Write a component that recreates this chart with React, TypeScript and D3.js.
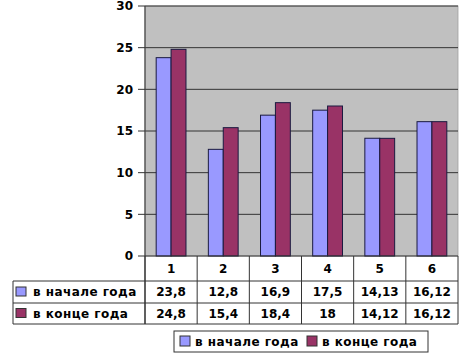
import React from "react";
import * as d3 from "d3";

const categories = ["1", "2", "3", "4", "5", "6"];
const seriesNames = ["в начале года", "в конце года"];
const startValues = [23.8, 12.8, 16.9, 17.5, 14.13, 16.12];
const endValues = [24.8, 15.4, 18.4, 18, 14.12, 16.12];
const startLabels = ["23,8", "12,8", "16,9", "17,5", "14,13", "16,12"];
const endLabels = ["24,8", "15,4", "18,4", "18", "14,12", "16,12"];
const yTicks = [0, 5, 10, 15, 20, 25, 30];
const colors = ["#9999FF", "#993366"];

export default function App() {
  const W = 470, H = 357;
  const left = 145, right = 458, top = 6, bottom = 256;
  const tableLeft = 13;
  const rowLines = [256, 281, 303, 324];
  const font = "'DejaVu Sans', Verdana, sans-serif";
  const ls = 0.45;

  const y = d3.scaleLinear().domain([0, 30]).range([bottom, top]);
  const x0 = d3.scaleBand().domain(categories).range([left, right]).paddingInner(0).paddingOuter(0);
  const x1 = d3.scaleBand().domain(seriesNames).range([0, x0.bandwidth()]).paddingInner(0).paddingOuter(0.75);
  const series = [startValues, endValues];
  const labels = [startLabels, endLabels];

  const boundaries = categories.map((c) => x0(c)!).concat([right]);

  return (
    <svg width={W} height={H} style={{ position: "absolute", left: 0, top: 0, background: "#fff" }}>
      <rect x={left} y={top} width={right - left} height={bottom - top} fill="#C0C0C0" stroke="#a0a0a0" strokeWidth={0.8} />
      {yTicks.filter((t) => t > 0).map((t) => (
        <line key={t} x1={left} x2={right} y1={y(t)} y2={y(t)} stroke="#333" strokeWidth={1} />
      ))}
      {series.map((vals, si) =>
        categories.map((c, i) => (
          <rect
            key={si + "-" + c}
            x={x0(c)! + x1(seriesNames[si])!}
            y={y(vals[i])}
            width={x1.bandwidth()}
            height={bottom - y(vals[i])}
            fill={colors[si]}
            stroke="#1a1a40"
            strokeWidth={1}
          />
        ))
      )}
      {/* y axis */}
      <line x1={left} x2={left} y1={top} y2={rowLines[3]} stroke="#444" strokeWidth={1.2} />
      {yTicks.map((t) => (
        <g key={t}>
          <line x1={left - 7} x2={left} y1={y(t)} y2={y(t)} stroke="#333" strokeWidth={1} />
          <text x={left - 12} y={y(t)} dy="0.36em" textAnchor="end" fontFamily={font} fontWeight="bold" fontSize={12} fill="#000">
            {t}
          </text>
        </g>
      ))}
      {/* table */}
      <line x1={left} x2={right} y1={rowLines[0]} y2={rowLines[0]} stroke="#333" strokeWidth={1} />
      {rowLines.slice(1).map((ry) => (
        <line key={ry} x1={tableLeft} x2={right} y1={ry} y2={ry} stroke="#333" strokeWidth={1} />
      ))}
      <line x1={tableLeft} x2={tableLeft} y1={rowLines[1]} y2={rowLines[3]} stroke="#333" strokeWidth={1} />
      {boundaries.map((bx, i) => (
        <line key={i} x1={bx} x2={bx} y1={rowLines[0]} y2={rowLines[3]} stroke="#333" strokeWidth={1} />
      ))}
      {categories.map((c) => (
        <text key={c} x={x0(c)! + x0.bandwidth() / 2} y={(rowLines[0] + rowLines[1]) / 2} dy="0.36em" textAnchor="middle" fontFamily={font} fontWeight="bold" fontSize={12}>
          {c}
        </text>
      ))}
      {labels.map((labs, si) => (
        <g key={si}>
          <rect x={16} y={(rowLines[si + 1] + rowLines[si + 2]) / 2 - 5} width={10} height={9} fill={colors[si]} stroke="#333" strokeWidth={1} />
          <text x={33} y={(rowLines[si + 1] + rowLines[si + 2]) / 2} dy="0.36em" fontFamily={font} fontWeight="bold" fontSize={12} letterSpacing={ls}>
            {seriesNames[si]}
          </text>
          {labs.map((l, i) => (
            <text key={i} x={x0(categories[i])! + x0.bandwidth() / 2} y={(rowLines[si + 1] + rowLines[si + 2]) / 2} dy="0.36em" textAnchor="middle" fontFamily={font} fontWeight="bold" fontSize={12}>
              {l}
            </text>
          ))}
        </g>
      ))}
      {/* legend */}
      <rect x={174} y={331} width={254} height={21} fill="#fff" stroke="#333" strokeWidth={1} />
      {seriesNames.map((n, si) => {
        const lx = si === 0 ? 180 : 307;
        return (
          <g key={n}>
            <rect x={lx} y={336} width={10} height={10} fill={colors[si]} stroke="#333" strokeWidth={1} />
            <text x={lx + 15} y={341.5} dy="0.36em" fontFamily={font} fontWeight="bold" fontSize={12} letterSpacing={ls}>
              {n}
            </text>
          </g>
        );
      })}
    </svg>
  );
}
